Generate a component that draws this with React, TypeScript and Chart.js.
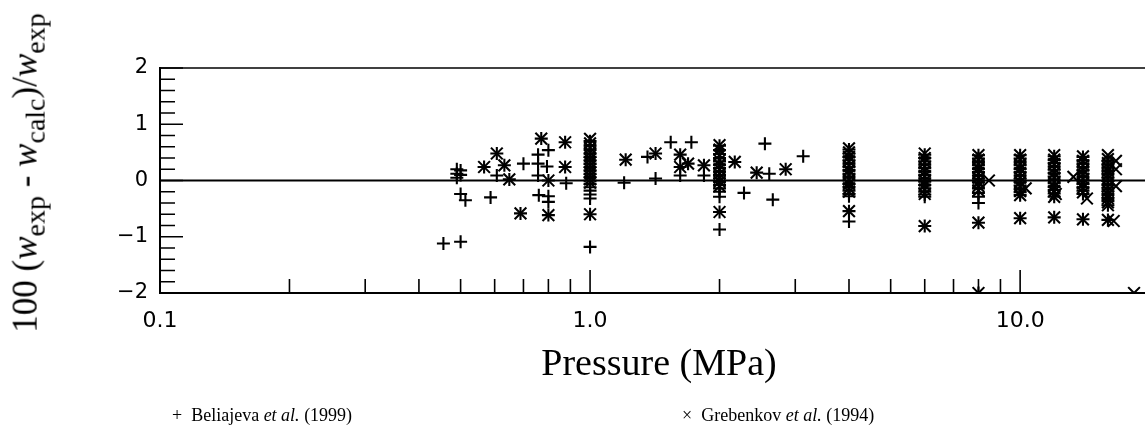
import React, { useEffect, useRef } from 'react';
import { Chart, registerables } from 'chart.js';

Chart.register(...registerables);

// Scattered measurements (pressure in MPa, relative deviation in %)
const belPressure = [
  0.456, 0.5, 0.49, 0.49, 0.49, 0.5, 0.5, 0.5, 0.513, 0.587, 0.567, 0.607, 0.632, 0.607, 0.649,
  0.7, 0.689, 0.757, 0.757, 0.757, 0.76, 0.77, 0.8, 0.794, 0.8, 0.8, 0.8, 0.8, 0.875, 0.875, 0.88,
  1.21, 1.2, 1.42, 1.36, 1.42, 1.54, 1.72, 1.62, 1.62, 1.62, 1.69, 1.84, 1.84,
  2.17, 2.28, 2.44, 2.61, 2.55, 2.66, 2.85, 3.13,
];
const belDeviation = [
  -1.12, -1.09, 0.2, 0.12, 0.05, 0.18, 0.1, -0.24, -0.35, -0.3, 0.24, 0.48, 0.27, 0.09, 0.02,
  0.3, -0.585, 0.46, 0.3, 0.09, -0.26, 0.745, 0.54, 0.25, 0.0, -0.28, -0.38, -0.615, 0.68, 0.24, -0.05,
  0.37, -0.04, 0.48, 0.42, 0.035, 0.68, 0.68, 0.46, 0.24, 0.09, 0.3, 0.27, 0.09,
  0.33, -0.22, 0.14, 0.12, 0.655, -0.34, 0.2, 0.43,
];

const grebPressure = [
  0.567, 0.607, 0.632, 0.649, 0.689, 0.77, 0.8, 0.8, 0.875, 0.875,
  1.21, 1.42, 1.62, 1.62, 1.69, 1.84, 2.17, 2.44, 2.85,
  8.46, 10.3, 12.1, 13.3, 14.3, 16.7, 16.7, 16.7, 16.5, 18.4,
];
const grebDeviation = [
  0.24, 0.48, 0.27, 0.02, -0.585, 0.745, 0.0, -0.615, 0.68, 0.24,
  0.37, 0.48, 0.46, 0.24, 0.3, 0.27, 0.33, 0.14, 0.2,
  0.0, -0.14, -0.24, 0.065, -0.32, 0.35, 0.2, -0.1, -0.72, -2.0,
];

// Isobaric series: many points at the same nominal pressure
const columnPressures = [1, 2, 4, 6, 8, 10, 12, 14, 16];
const belColumns = [
  [0.7, 0.62, 0.55, 0.48, 0.42, 0.36, 0.3, 0.24, 0.18, 0.12, 0.06, 0.0, -0.06, -0.12, -0.18, -0.25, -0.32, -0.6, -1.18],
  [0.62, 0.54, 0.47, 0.4, 0.34, 0.28, 0.22, 0.16, 0.1, 0.04, -0.02, -0.08, -0.14, -0.2, -0.29, -0.56, -0.87],
  [0.55, 0.48, 0.42, 0.36, 0.3, 0.24, 0.18, 0.12, 0.06, 0.0, -0.06, -0.12, -0.18, -0.24, -0.28, -0.545, -0.73],
  [0.46, 0.4, 0.34, 0.28, 0.22, 0.16, 0.1, 0.04, -0.02, -0.08, -0.14, -0.2, -0.25, -0.29, -0.81],
  [0.45, 0.39, 0.33, 0.27, 0.21, 0.15, 0.09, 0.03, -0.03, -0.09, -0.14, -0.22, -0.29, -0.4, -0.75, -2.0],
  [0.45, 0.39, 0.33, 0.27, 0.21, 0.15, 0.09, 0.03, -0.03, -0.09, -0.15, -0.21, -0.26, -0.67],
  [0.43, 0.37, 0.31, 0.25, 0.19, 0.13, 0.07, 0.01, -0.05, -0.11, -0.17, -0.23, -0.29, -0.655],
  [0.42, 0.36, 0.3, 0.24, 0.18, 0.12, 0.06, 0.0, -0.06, -0.12, -0.18, -0.24, -0.69],
  [0.35, 0.29, 0.23, 0.17, 0.11, 0.05, -0.01, -0.07, -0.13, -0.19, -0.25, -0.31, -0.37, -0.44, -0.7],
];
const grebColumns = [
  [0.74, 0.66, 0.58, 0.5, 0.44, 0.38, 0.32, 0.26, 0.2, 0.14, 0.08, 0.02, -0.04, -0.6],
  [0.63, 0.55, 0.45, 0.36, 0.28, 0.2, 0.12, 0.05, -0.02, -0.1, -0.56],
  [0.57, 0.5, 0.42, 0.34, 0.26, 0.18, 0.1, 0.02, -0.06, -0.14, -0.2, -0.545],
  [0.48, 0.4, 0.32, 0.24, 0.16, 0.08, 0.0, -0.08, -0.16, -0.24, -0.81],
  [0.45, 0.37, 0.29, 0.21, 0.13, 0.05, -0.03, -0.1, -0.18, -0.75, -2.0],
  [0.45, 0.37, 0.29, 0.21, 0.13, 0.05, -0.03, -0.11, -0.19, -0.26, -0.67],
  [0.45, 0.37, 0.29, 0.21, 0.13, 0.05, -0.03, -0.11, -0.19, -0.29, -0.655],
  [0.43, 0.35, 0.27, 0.19, 0.11, 0.03, -0.05, -0.13, -0.21, -0.69],
  [0.45, 0.38, 0.31, 0.24, 0.17, 0.1, 0.03, -0.04, -0.11, -0.18, -0.25, -0.32, -0.39, -0.44, -0.7],
];

const xTickValues = [
  0.1, 0.2, 0.3, 0.4, 0.5, 0.6, 0.7, 0.8, 0.9,
  1, 2, 3, 4, 5, 6, 7, 8, 9,
  10, 20,
];
const xMajorLabels = new Map<number, string>([[0.1, '0.1'], [1, '1.0'], [10, '10.0']]);
const yTickValues = [-2, -1, 0, 1, 2];

const X_MIN = 0.1;
const X_MAX = 20;
const Y_MIN = -2;
const Y_MAX = 2;

const CANVAS_W = 1160;
const CANVAS_H = 439;
const PLOT_LEFT = 160;
const PLOT_TOP = 68;
const PLOT_BOTTOM = 293;
const PLOT_RIGHT = 1155;

function toPoints(px: number[], dev: number[]) {
  return px.map((p, i) => ({ x: p, y: dev[i] }));
}

function columnPoints(cols: number[][]) {
  const out: { x: number; y: number }[] = [];
  cols.forEach((list, i) => list.forEach((d) => out.push({ x: columnPressures[i], y: d })));
  return out;
}

// Frame, zero line and inward tick marks
const framePlugin = {
  id: 'frame',
  beforeDatasetsDraw(chart: any) {
    const { ctx, chartArea } = chart;
    const xs = chart.scales.x;
    const ys = chart.scales.y;
    const { left, right, top, bottom } = chartArea;
    ctx.save();
    ctx.strokeStyle = '#000';
    ctx.lineCap = 'butt';

    ctx.lineWidth = 1.5;
    ctx.beginPath();
    ctx.moveTo(left, top);
    ctx.lineTo(right, top);
    ctx.stroke();

    ctx.lineWidth = 2;
    ctx.beginPath();
    ctx.moveTo(left, top - 1);
    ctx.lineTo(left, bottom + 1);
    ctx.moveTo(left - 1, bottom);
    ctx.lineTo(right, bottom);
    const y0 = ys.getPixelForValue(0);
    ctx.moveTo(left, y0);
    ctx.lineTo(right, y0);
    ctx.stroke();

    ctx.lineWidth = 1.6;
    ctx.beginPath();
    for (let k = -10; k <= 10; k++) {
      const v = k / 5;
      const y = ys.getPixelForValue(v);
      const len = k % 5 === 0 ? 23 : 15;
      ctx.moveTo(left, y);
      ctx.lineTo(left + len, y);
    }
    xTickValues.forEach((v) => {
      const x = xs.getPixelForValue(v);
      if (x <= left + 1) return;
      const len = xMajorLabels.has(v) ? 23 : 14;
      ctx.moveTo(x, bottom);
      ctx.lineTo(x, bottom - len);
    });
    ctx.stroke();
    ctx.restore();
  },
};

function ScatterChart() {
  const ref = useRef<HTMLCanvasElement | null>(null);

  useEffect(() => {
    if (!ref.current) return;
    const bel = [...toPoints(belPressure, belDeviation), ...columnPoints(belColumns)];
    const greb = [...toPoints(grebPressure, grebDeviation), ...columnPoints(grebColumns)];
    const chart = new Chart(ref.current, {
      type: 'scatter',
      data: {
        datasets: [
          {
            label: 'Beliajeva et al. (1999)',
            data: bel,
            pointStyle: 'cross',
            pointRadius: 6.5,
            borderWidth: 2.1,
            borderColor: '#000',
            backgroundColor: '#000',
            clip: 0,
          },
          {
            label: 'Grebenkov et al. (1994)',
            data: greb,
            pointStyle: 'crossRot',
            pointRadius: 8.3,
            borderWidth: 2.1,
            borderColor: '#000',
            backgroundColor: '#000',
            clip: 0,
          },
        ],
      },
      options: {
        animation: false,
        responsive: false,
        devicePixelRatio: 1,
        events: [],
        layout: { padding: { left: 0, right: CANVAS_W - PLOT_RIGHT, top: PLOT_TOP, bottom: 0 } },
        plugins: { legend: { display: false }, tooltip: { enabled: false } },
        scales: {
          x: {
            type: 'logarithmic',
            min: X_MIN,
            max: X_MAX,
            grid: { display: false, drawTicks: false },
            border: { display: false },
            afterBuildTicks: (scale: any) => {
              scale.ticks = xTickValues.map((v) => ({ value: v }));
            },
            afterFit: (scale: any) => {
              scale.height = CANVAS_H - PLOT_BOTTOM;
              scale.paddingLeft = 0;
              scale.paddingRight = 0;
            },
            ticks: {
              autoSkip: false,
              maxRotation: 0,
              minRotation: 0,
              padding: 15,
              color: '#000',
              font: { family: '"DejaVu Sans"', size: 22 },
              callback: (value: any) => xMajorLabels.get(Number(value)) ?? '',
            },
          },
          y: {
            type: 'linear',
            min: Y_MIN,
            max: Y_MAX,
            grid: { display: false, drawTicks: false },
            border: { display: false },
            afterBuildTicks: (scale: any) => {
              scale.ticks = yTickValues.map((v) => ({ value: v }));
            },
            afterFit: (scale: any) => {
              scale.width = PLOT_LEFT;
            },
            ticks: {
              padding: 12,
              color: '#000',
              font: { family: '"DejaVu Sans"', size: 21 },
              callback: (value: any) => String(value).replace('-', '\u2212'),
            },
          },
        },
      },
      plugins: [framePlugin],
    });
    return () => chart.destroy();
  }, []);

  return (
    <canvas
      ref={ref}
      width={CANVAS_W}
      height={CANVAS_H}
      style={{ display: 'block', width: CANVAS_W, height: CANVAS_H }}
    />
  );
}

const serif = '"Liberation Serif", "Times New Roman", serif';
const sub: React.CSSProperties = { fontSize: '0.8em', verticalAlign: '-0.28em' };
const legendText: React.CSSProperties = {
  position: 'absolute',
  top: 405,
  whiteSpace: 'nowrap',
  font: `18px ${serif}`,
  lineHeight: '20px',
  color: '#000',
};

export default function App() {
  return (
    <div
      style={{
        position: 'absolute',
        left: 0,
        top: 0,
        width: 1145,
        height: 439,
        overflow: 'hidden',
        background: '#fff',
      }}
    >
      <ScatterChart />
      <div
        style={{
          position: 'absolute',
          left: 30,
          top: 173,
          transform: 'translate(-50%, -50%) rotate(-90deg)',
          whiteSpace: 'nowrap',
          font: `35px ${serif}`,
          lineHeight: '35px',
          color: '#000',
        }}
      >
        100 (<i>w</i>
        <span style={sub}>exp</span> - <i>w</i>
        <span style={sub}>calc</span>)/<i>w</i>
        <span style={sub}>exp</span>
      </div>
      <div
        style={{
          position: 'absolute',
          left: 659,
          top: 343,
          transform: 'translateX(-50%)',
          whiteSpace: 'nowrap',
          font: `38px ${serif}`,
          lineHeight: '38px',
          color: '#000',
        }}
      >
        Pressure (MPa)
      </div>
      <div style={{ ...legendText, left: 172 }}>
        <span style={{ marginRight: 9 }}>+</span>Beliajeva <i>et al.</i> (1999)
      </div>
      <div style={{ ...legendText, left: 682 }}>
        <span style={{ marginRight: 9 }}>×</span>Grebenkov <i>et al.</i> (1994)
      </div>
    </div>
  );
}
